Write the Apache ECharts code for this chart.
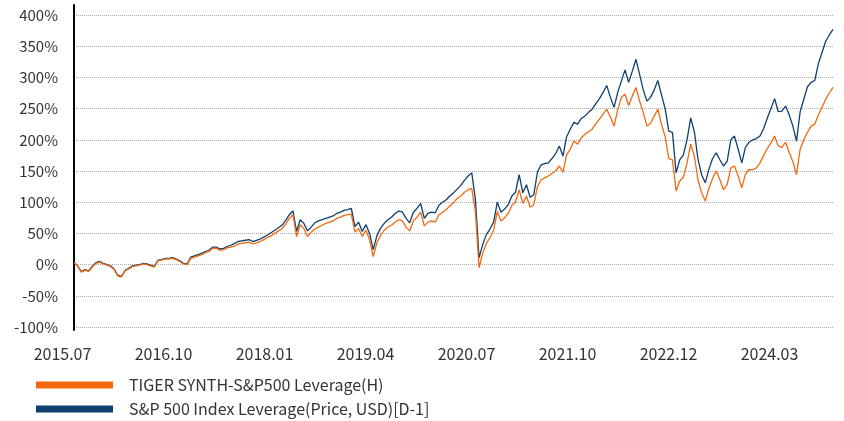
<!DOCTYPE html>
<html>
<head>
<meta charset="utf-8">
<script src="https://cdn.jsdelivr.net/npm/echarts@6/dist/echarts.min.js"></script>
<style>
  html, body { margin: 0; padding: 0; background: #fff; }
  #chart { width: 844px; height: 421px; }
</style>
</head>
<body>
<div id="chart"></div>
<script>
// half-month steps, Jul 2015 .. Mar 2024
const dates = [];
for (let i = 0; i <= 104; i++) {
  const d = new Date(2015, 6 + i, 1);
  const ym = d.getFullYear() + '.' + String(d.getMonth() + 1).padStart(2, '0');
  dates.push(ym + '.01');
  if (i < 104) dates.push(ym + '.15');
}

const tickLabels = ['2015.07', '2016.10', '2018.01', '2019.04', '2020.07', '2021.10', '2022.12', '2024.03'];

const tigerName = 'TIGER SYNTH-S&P500 Leverage(H)';
const indexName = 'S&P 500 Index Leverage(Price, USD)[D-1]';

const tigerValues = [
  3, -2, -12, -9, -11, -4, 2, 4, 1, -1,
  -3, -8, -18, -20, -10, -7, -3, -2, -1, 1,
  0, -2, -4, 6, 7, 9, 9, 10, 8, 5,
  1, 0, 10, 12, 14, 16, 19, 21, 26, 26,
  23, 24, 27, 28, 30, 33, 34, 35, 36, 33,
  35, 37, 40, 43, 46, 50, 54, 57, 65, 74,
  80, 45, 64, 58, 45, 52, 57, 60, 63, 66,
  68, 70, 74, 76, 79, 80, 81, 52, 58, 45,
  55, 40, 13, 35, 47, 55, 60, 63, 68, 72,
  70, 60, 54, 70, 76, 84, 62, 68, 70, 68,
  80, 84, 88, 94, 99, 106, 110, 116, 120, 122,
  85, -5, 18, 34, 43, 55, 85, 70, 75, 82,
  95, 100, 120, 98, 110, 92, 96, 125, 136, 139,
  142, 146, 150, 158, 148, 176, 185, 198, 193, 203,
  209, 213, 217, 226, 233, 241, 249, 236, 222, 248,
  268, 273, 255, 270, 284, 262, 244, 222, 226, 238,
  249, 225, 205, 170, 168, 118, 134, 140, 163, 193,
  174, 136, 115, 102, 122, 138, 150, 136, 120, 128,
  155, 158, 142, 123, 145, 152, 152, 155, 163, 175,
  186, 195, 206, 190, 188, 196, 180, 165, 144, 185,
  200, 212, 222, 225, 240, 252, 265, 275, 284
];

const indexValues = [
  3, -2, -11, -8, -10, -3, 3, 5, 2, 0,
  -2, -7, -17, -19, -9, -6, -2, -1, 0, 2,
  1, -1, -3, 7, 8, 10, 10, 11, 9, 6,
  2, 1, 12, 14, 16, 18, 21, 23, 28, 28,
  25, 26, 29, 31, 34, 37, 38, 39, 40, 37,
  39, 41, 44, 47, 51, 55, 59, 63, 71, 80,
  86, 53, 72, 66, 54, 60, 67, 70, 72, 74,
  76, 78, 82, 84, 87, 88, 90, 61, 68, 53,
  64, 50, 24, 46, 58, 66, 72, 76, 82, 86,
  84, 74, 67, 84, 90, 98, 74, 82, 84, 83,
  95, 100, 104, 110, 115, 121, 127, 135, 142, 147,
  105, 11, 32, 48, 57, 68, 100, 84, 89, 96,
  110, 116, 144, 115, 128, 108, 112, 148, 160, 162,
  163, 170, 178, 190, 174, 205, 217, 228, 225, 234,
  238, 244, 249, 258, 266, 276, 287, 268, 252, 276,
  294, 312, 292, 310, 329, 305, 280, 262, 268, 280,
  295, 272, 250, 214, 212, 147, 168, 176, 200, 235,
  213, 169, 144, 131, 153, 170, 179, 168, 158, 166,
  200, 206, 185, 163, 188, 196, 200, 202, 206, 218,
  235, 250, 266, 245, 246, 254, 240, 222, 198, 245,
  265, 285, 292, 295, 322, 340, 358, 368, 377
];

const font = "'Noto Sans CJK KR', 'Noto Sans', sans-serif";
const chart = echarts.init(document.getElementById('chart'));

const option = {
  animation: false,
  backgroundColor: '#fff',
  textStyle: { fontFamily: font },
  grid: [
    { left: 74, right: 11, top: 15, bottom: 94 },
    // label strip for the date ticks
    { left: 12, width: 808, top: 15, bottom: 94 },
    // black left axis line
    { left: 74, width: 1, top: 5, bottom: 91 }
  ],
  legend: {
    orient: 'vertical',
    left: 36,
    top: 376,
    padding: 0,
    icon: 'rect',
    itemWidth: 77,
    itemHeight: 7,
    itemGap: 6,
    data: [tigerName, indexName],
    textStyle: { fontSize: 16, color: '#333', lineHeight: 18, padding: [0, 0, 0, 11] }
  },
  xAxis: [
    {
      type: 'category',
      gridIndex: 0,
      data: dates,
      boundaryGap: false,
      axisLine: { show: false },
      axisTick: { show: false },
      axisLabel: { show: false },
      splitLine: { show: false }
    },
    {
      type: 'category',
      gridIndex: 1,
      data: tickLabels,
      boundaryGap: true,
      axisLine: { show: false },
      axisTick: { show: false },
      axisLabel: { fontSize: 16, color: '#333', margin: 19, interval: 0 }
    },
    { type: 'value', gridIndex: 2, show: false }
  ],
  yAxis: [
    {
      type: 'value',
      gridIndex: 0,
      min: -100,
      max: 400,
      interval: 50,
      axisLine: { show: false },
      axisTick: { show: false },
      axisLabel: { formatter: '{value}%', fontSize: 15, color: '#333', margin: 16 },
      splitLine: { lineStyle: { color: '#aaa', type: 'dotted', width: 1 } }
    },
    { type: 'value', gridIndex: 1, show: false },
    {
      type: 'value',
      gridIndex: 2,
      axisLine: { show: true, lineStyle: { color: '#000', width: 2 } },
      axisTick: { show: false },
      axisLabel: { show: false },
      splitLine: { show: false }
    }
  ],
  series: [
    {
      name: indexName,
      type: 'line',
      xAxisIndex: 0,
      yAxisIndex: 0,
      data: indexValues,
      showSymbol: false,
      color: '#0F3F6F',
      lineStyle: { width: 1.3 }
    },
    {
      name: tigerName,
      type: 'line',
      xAxisIndex: 0,
      yAxisIndex: 0,
      data: tigerValues,
      showSymbol: false,
      color: '#F26A10',
      lineStyle: { width: 1.3 }
    }
  ]
};

chart.setOption(option);
</script>
</body>
</html>
